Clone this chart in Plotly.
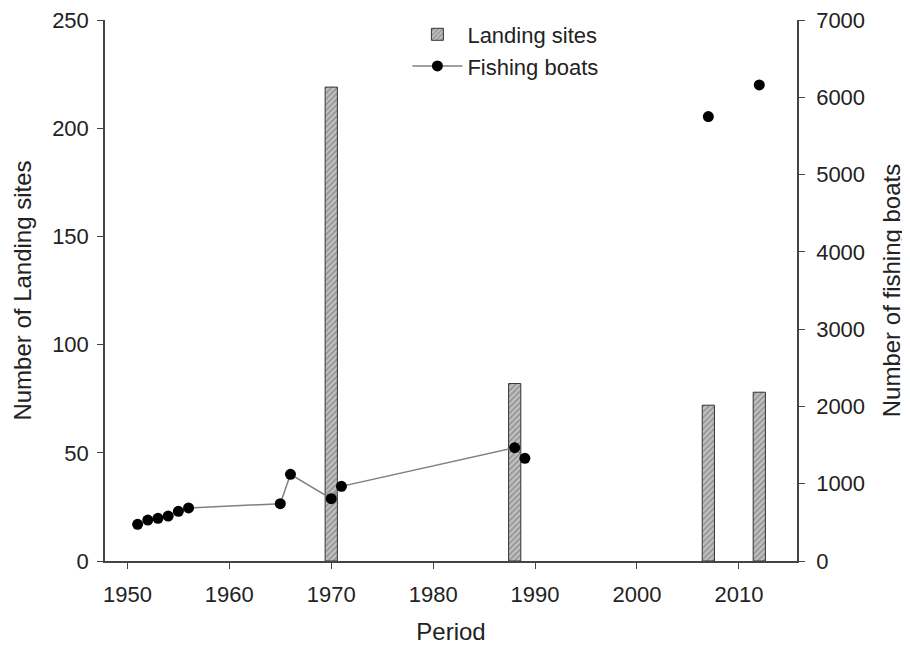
import plotly.graph_objects as go

# Landing sites (left axis)
site_years = [1970, 1988, 2007, 2012]
site_counts = [219, 82, 72, 78]

# Fishing boats (right axis) - connected series
boat_years = [1951, 1952, 1953, 1954, 1955, 1956, 1965, 1966, 1970, 1971, 1988, 1989]
boat_counts = [475, 530, 552, 582, 643, 686, 741, 1122, 806, 966, 1466, 1329]
# Fishing boats - later unconnected points
boat_years_late = [2007, 2012]
boat_counts_late = [5750, 6160]

x_ticks = [1950, 1960, 1970, 1980, 1990, 2000, 2010]

FONT = "Liberation Sans, Arial, sans-serif"
TICK = 22
TITLE = 24

fig = go.Figure()
fig.add_trace(go.Bar(
    x=site_years, y=site_counts, width=1.2, name="Landing sites",
    marker=dict(color="#c0c0c0", line=dict(color="#333333", width=1),
                pattern=dict(shape="/", fgcolor="#555555", bgcolor="#c0c0c0",
                             size=4, solidity=0.35)),
    yaxis="y",
))
fig.add_trace(go.Scatter(
    x=boat_years, y=boat_counts, mode="lines+markers", name="Fishing boats",
    line=dict(color="#808080", width=1.5),
    marker=dict(color="black", size=11),
    yaxis="y2",
))
fig.add_trace(go.Scatter(
    x=boat_years_late, y=boat_counts_late, mode="markers", showlegend=False,
    marker=dict(color="black", size=11),
    yaxis="y2",
))

axis_common = dict(showline=True, linecolor="#444444", linewidth=1.5,
                   ticks="outside", ticklen=6, tickcolor="#444444", tickwidth=1,
                   showgrid=False, zeroline=False, automargin=False,
                   ticklabeloverflow="allow",
                   tickfont=dict(size=TICK, color="#222222", family=FONT))

# page body adds an 8px margin, so the figure is sized to fill the remaining window
fig.update_layout(
    width=902, height=638,
    margin=dict(l=97, r=113, t=12, b=85, autoexpand=False),
    paper_bgcolor="white", plot_bgcolor="white",
    font=dict(family=FONT, color="#222222"),
    showlegend=True,
    legend=dict(x=0.437, y=1.012, xanchor="left", yanchor="top",
                bgcolor="rgba(0,0,0,0)", font=dict(size=TICK, family=FONT),
                tracegroupgap=0, itemwidth=50),
    xaxis=dict(range=[1947.8, 2015.7], tickvals=x_ticks, ticklabelstandoff=7,
               title=dict(text="Period", font=dict(size=TITLE, family=FONT), standoff=17),
               **axis_common),
    yaxis=dict(range=[0, 250], dtick=50, ticklabelstandoff=4,
               title=dict(text="Number of Landing sites", font=dict(size=TITLE, family=FONT), standoff=14),
               **axis_common),
    yaxis2=dict(range=[0, 7000], dtick=1000, overlaying="y", side="right", ticklabelstandoff=7,
                title=dict(text="Number of fishing boats", font=dict(size=TITLE, family=FONT), standoff=19),
                **axis_common),
)

fig.write_html("out.html")
